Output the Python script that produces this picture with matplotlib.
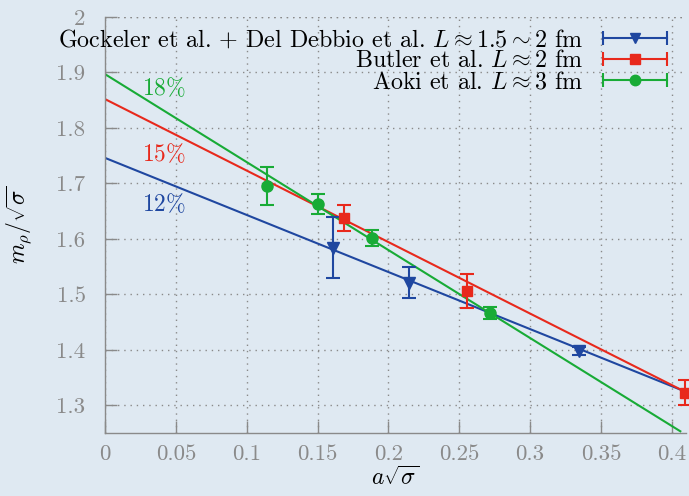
import numpy as np
import matplotlib
matplotlib.use("Agg")
import matplotlib.pyplot as plt
from matplotlib.lines import Line2D
from matplotlib.legend_handler import HandlerLine2D, HandlerTuple
from matplotlib.ticker import FormatStrFormatter

plt.rcParams["font.family"] = "serif"
plt.rcParams["font.serif"] = ["cmr10"]
plt.rcParams["mathtext.fontset"] = "cm"
plt.rcParams["axes.formatter.use_mathtext"] = True

# Gockeler et al. + Del Debbio et al.
gock_x = [0.161, 0.2147, 0.3346]
gock_y = [1.584, 1.521, 1.398]
gock_err = [0.055, 0.028, 0.007]

# Butler et al.
butler_x = [0.1688, 0.2556, 0.409]
butler_y = [1.638, 1.506, 1.323]
butler_err = [0.023, 0.031, 0.022]

# Aoki et al.
aoki_x = [0.1145, 0.1505, 0.1886, 0.2716]
aoki_y = [1.695, 1.662, 1.602, 1.466]
aoki_err = [0.034, 0.018, 0.014, 0.0105]

# straight fits: value at a*sqrt(sigma)=0 and slope
fit_x = np.array([0.0, 0.406])
fit_intercepts = [1.746, 1.852, 1.897]
fit_slopes = [-1.029, -1.289, -1.586]
fit_labels = ["12", "15", "18"]
label_y = [1.662, 1.752, 1.872]

blue = "#1f47a0"
red = "#e8291c"
green = "#18ab36"
colors = [blue, red, green]
bg = "#dfe9f2"
gray = "#8a8a8a"

fig = plt.figure(figsize=(6.89, 4.96), dpi=100, facecolor=bg)
ax = fig.add_axes([105 / 689, 1 - 433 / 496, (686 - 105) / 689, (433 - 17) / 496])
ax.set_facecolor(bg)

# fit lines
for b, m, c in zip(fit_intercepts, fit_slopes, colors):
    ax.plot(fit_x, b + m * fit_x, color=c, lw=1.5, zorder=2)
for lab, ly, c in zip(fit_labels, label_y, colors):
    ax.text(0.026, ly, r"$%s\%%$" % lab, color=c, fontsize=17, va="center", ha="left")

# data with error bars
ax.errorbar(gock_x, gock_y, yerr=gock_err, fmt="v", color=blue, ms=8, capsize=5,
            elinewidth=1.5, capthick=1.5, clip_on=False, zorder=3)
ax.errorbar(butler_x, butler_y, yerr=butler_err, fmt="s", color=red, ms=7.5, capsize=5,
            elinewidth=1.5, capthick=1.5, clip_on=False, zorder=3)
ax.errorbar(aoki_x, aoki_y, yerr=aoki_err, fmt="o", color=green, ms=8, capsize=5,
            elinewidth=1.5, capthick=1.5, clip_on=False, zorder=3)

ax.set_xlim(0, 0.41)
ax.set_ylim(1.25, 2.0)
ax.set_xticks(np.arange(0, 0.41, 0.05))
ax.set_yticks([1.3, 1.4, 1.5, 1.6, 1.7, 1.8, 1.9, 2.0])
ax.xaxis.set_major_formatter(FormatStrFormatter("%g"))
ax.yaxis.set_major_formatter(FormatStrFormatter("%g"))
ax.tick_params(direction="in", length=8.5, width=1, color=gray, labelcolor=gray,
               labelsize=16.5)
ax.tick_params(axis="y", pad=14)
ax.tick_params(axis="x", pad=8)

ax.grid(True, color=gray, ls=(0, (1, 3.5)), lw=1)
ax.axhline(2.0, color=gray, ls=(0, (1, 3.5)), lw=1, zorder=0)
for s in ["top", "right"]:
    ax.spines[s].set_visible(False)
for s in ["left", "bottom"]:
    ax.spines[s].set_color(gray)
    ax.spines[s].set_linewidth(1)

ax.set_xlabel(r"$a\sqrt{\sigma}$", fontsize=17, labelpad=2)
ax.set_ylabel(r"$m_\rho/\sqrt{\sigma}$", fontsize=17, labelpad=16)

# legend in gnuplot style: line with caps at both ends plus marker in middle
handles = []
hmap = {}
for c, mk in zip(colors, ["v", "s", "o"]):
    cap = Line2D([], [], color=c, lw=1.5, marker="|", ms=10, mew=1.5)
    dot = Line2D([], [], color=c, marker=mk, ls="none", ms=7.5)
    hmap[cap] = HandlerLine2D(numpoints=2, marker_pad=0)
    handles.append((cap, dot))
hmap[tuple] = HandlerTuple(ndivide=1, pad=0)
labels = [r"Gockeler et al. $+$ Del Debbio et al. $L \approx 1.5 \sim 2$ fm",
          r"Butler et al. $L \approx 2$ fm",
          r"Aoki et al. $L \approx 3$ fm"]
ax.legend(handles, labels, handler_map=hmap, loc="upper right",
          bbox_to_anchor=(667 / 689, 1 - 29 / 496), bbox_transform=fig.transFigure,
          markerfirst=False, frameon=False, fontsize=17.3, handlelength=2.65,
          handletextpad=0.85, labelspacing=-0.06, borderpad=0, borderaxespad=0)

fig.savefig("out.png", dpi=100, facecolor=bg)
